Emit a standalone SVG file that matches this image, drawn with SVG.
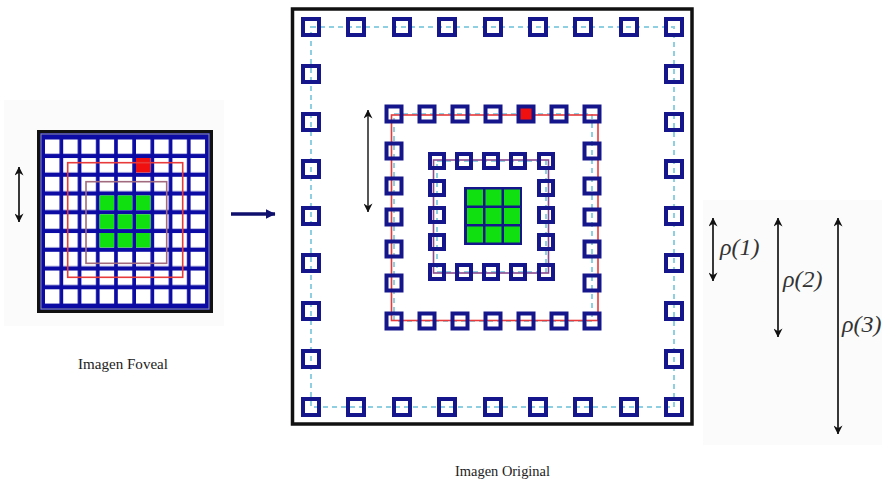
<svg xmlns="http://www.w3.org/2000/svg" width="882" height="480" viewBox="0 0 882 480">
<style>
.bg{fill:#ffffff}
.faint{fill:#fbfbfb}
.sq{fill:none;stroke:#16168c;stroke-width:4}
.sqred{fill:#f01010;stroke:#16168c;stroke-width:4}
.dash{fill:none;stroke:#8fcfe2;stroke-width:2;stroke-dasharray:5 4}
.redline{fill:none;stroke:#e83a3a;stroke-width:1.6}
.purpline{fill:none;stroke:#8a4a8e;stroke-width:1.6}
.frame{fill:none;stroke:#111111;stroke-width:3.5}
.green{fill:#10e010}
.arr{fill:none;stroke:#222222;stroke-width:1.8;marker-start:url(#ah);marker-end:url(#ah)}
.cap{font-family:"Liberation Serif","Times New Roman",serif;font-size:14.5px;fill:#222222}
.rho{font-family:"Liberation Serif","Times New Roman",serif;font-style:italic;font-size:24px;fill:#333333}
</style>
<defs>
<marker id="ah" viewBox="0 0 10 10" refX="9.5" refY="5" markerWidth="9" markerHeight="9" markerUnits="userSpaceOnUse" orient="auto-start-reverse">
<path d="M0,0 L10,5 L0,10 L3,5 z" fill="#111111"/>
</marker>
<marker id="ahn" viewBox="0 0 10 10" refX="9.5" refY="5" markerWidth="10" markerHeight="10" markerUnits="userSpaceOnUse" orient="auto">
<path d="M0,0 L10,5 L0,10 z" fill="#0f0f6e"/>
</marker>
<pattern id="cells" patternUnits="userSpaceOnUse" x="45" y="139.3" width="18.2" height="18.75">
<rect x="0" y="0" width="14.5" height="14.5" fill="#ffffff"/>
</pattern>
</defs>
<rect class="bg" x="0" y="0" width="882" height="480"/>
<rect class="faint" x="4" y="100" width="220" height="226"/>
<rect class="faint" x="703" y="200" width="179" height="245"/>

<g id="foveal">
<rect x="38.5" y="131.5" width="173" height="180" fill="#0c0ca4" stroke="#111111" stroke-width="3"/>
<rect x="41" y="134" width="168" height="175" fill="none" stroke="#9090a0" stroke-width="1"/>
<rect x="45" y="139.3" width="160.3" height="164.5" fill="url(#cells)"/>
<rect x="136" y="158" width="14.5" height="14.5" fill="#f01010"/>
<rect class="green" x="99.6" y="195.5" width="14.5" height="14.5"/>
<rect class="green" x="117.8" y="195.5" width="14.5" height="14.5"/>
<rect class="green" x="136" y="195.5" width="14.5" height="14.5"/>
<rect class="green" x="99.6" y="214.3" width="14.5" height="14.5"/>
<rect class="green" x="117.8" y="214.3" width="14.5" height="14.5"/>
<rect class="green" x="136" y="214.3" width="14.5" height="14.5"/>
<rect class="green" x="99.6" y="233" width="14.5" height="14.5"/>
<rect class="green" x="117.8" y="233" width="14.5" height="14.5"/>
<rect class="green" x="136" y="233" width="14.5" height="14.5"/>
<rect class="redline" x="67.7" y="162.7" width="115" height="114.6"/>
<rect x="86" y="181.7" width="80.7" height="81.6" fill="none" stroke="#a26a7e" stroke-width="1.6"/>
</g>

<g id="original">
<rect class="frame" x="292.5" y="9" width="399.5" height="415"/>
<rect class="dash" x="311" y="27" width="363" height="380"/>
<rect class="dash" x="394" y="114" width="198" height="207"/>
<rect class="dash" x="437" y="161" width="109" height="111"/>
<rect class="redline" x="391.5" y="115" width="206.5" height="205.5"/>
<rect class="purpline" x="433.5" y="160" width="115" height="113"/>
<g id="ring-outer">
<rect class="sq" x="303" y="19" width="16" height="16"/><rect class="sq" x="348" y="19" width="16" height="16"/><rect class="sq" x="394" y="19" width="16" height="16"/><rect class="sq" x="439" y="19" width="16" height="16"/><rect class="sq" x="485" y="19" width="16" height="16"/><rect class="sq" x="530" y="19" width="16" height="16"/><rect class="sq" x="575" y="19" width="16" height="16"/><rect class="sq" x="621" y="19" width="16" height="16"/><rect class="sq" x="666" y="19" width="16" height="16"/>
<rect class="sq" x="303" y="399" width="16" height="16"/><rect class="sq" x="348" y="399" width="16" height="16"/><rect class="sq" x="394" y="399" width="16" height="16"/><rect class="sq" x="439" y="399" width="16" height="16"/><rect class="sq" x="485" y="399" width="16" height="16"/><rect class="sq" x="530" y="399" width="16" height="16"/><rect class="sq" x="575" y="399" width="16" height="16"/><rect class="sq" x="621" y="399" width="16" height="16"/><rect class="sq" x="666" y="399" width="16" height="16"/>
<rect class="sq" x="303" y="66" width="16" height="16"/><rect class="sq" x="303" y="114" width="16" height="16"/><rect class="sq" x="303" y="161" width="16" height="16"/><rect class="sq" x="303" y="208" width="16" height="16"/><rect class="sq" x="303" y="255" width="16" height="16"/><rect class="sq" x="303" y="303" width="16" height="16"/><rect class="sq" x="303" y="351" width="16" height="16"/>
<rect class="sq" x="666" y="66" width="16" height="16"/><rect class="sq" x="666" y="114" width="16" height="16"/><rect class="sq" x="666" y="161" width="16" height="16"/><rect class="sq" x="666" y="208" width="16" height="16"/><rect class="sq" x="666" y="255" width="16" height="16"/><rect class="sq" x="666" y="303" width="16" height="16"/><rect class="sq" x="666" y="351" width="16" height="16"/>
</g>
<g id="ring-middle">
<rect class="sq" x="386.5" y="106.5" width="15" height="15"/><rect class="sq" x="419.5" y="106.5" width="15" height="15"/><rect class="sq" x="452.5" y="106.5" width="15" height="15"/><rect class="sq" x="485.5" y="106.5" width="15" height="15"/><rect class="sqred" x="518.5" y="106.5" width="15" height="15"/><rect class="sq" x="551.5" y="106.5" width="15" height="15"/><rect class="sq" x="584.5" y="106.5" width="15" height="15"/>
<rect class="sq" x="386.5" y="313.5" width="15" height="15"/><rect class="sq" x="419.5" y="313.5" width="15" height="15"/><rect class="sq" x="452.5" y="313.5" width="15" height="15"/><rect class="sq" x="485.5" y="313.5" width="15" height="15"/><rect class="sq" x="518.5" y="313.5" width="15" height="15"/><rect class="sq" x="551.5" y="313.5" width="15" height="15"/><rect class="sq" x="584.5" y="313.5" width="15" height="15"/>
<rect class="sq" x="386.5" y="143.5" width="15" height="15"/><rect class="sq" x="386.5" y="178.5" width="15" height="15"/><rect class="sq" x="386.5" y="209.5" width="15" height="15"/><rect class="sq" x="386.5" y="241.5" width="15" height="15"/><rect class="sq" x="386.5" y="275.5" width="15" height="15"/>
<rect class="sq" x="584.5" y="143.5" width="15" height="15"/><rect class="sq" x="584.5" y="178.5" width="15" height="15"/><rect class="sq" x="584.5" y="209.5" width="15" height="15"/><rect class="sq" x="584.5" y="241.5" width="15" height="15"/><rect class="sq" x="584.5" y="275.5" width="15" height="15"/>
</g>
<g id="ring-inner">
<rect class="sq" x="430" y="154" width="14" height="14"/><rect class="sq" x="457" y="154" width="14" height="14"/><rect class="sq" x="484" y="154" width="14" height="14"/><rect class="sq" x="511" y="154" width="14" height="14"/><rect class="sq" x="539" y="154" width="14" height="14"/>
<rect class="sq" x="430" y="265" width="14" height="14"/><rect class="sq" x="457" y="265" width="14" height="14"/><rect class="sq" x="484" y="265" width="14" height="14"/><rect class="sq" x="511" y="265" width="14" height="14"/><rect class="sq" x="539" y="265" width="14" height="14"/>
<rect class="sq" x="430" y="181" width="14" height="14"/><rect class="sq" x="430" y="208" width="14" height="14"/><rect class="sq" x="430" y="235" width="14" height="14"/>
<rect class="sq" x="539" y="181" width="14" height="14"/><rect class="sq" x="539" y="208" width="14" height="14"/><rect class="sq" x="539" y="235" width="14" height="14"/>
</g>
<g id="fovea-center">
<rect x="464" y="187" width="58" height="58" fill="#16168c"/>
<rect class="green" x="467" y="189.5" width="16" height="16"/><rect class="green" x="485.5" y="189.5" width="16" height="16"/><rect class="green" x="504" y="189.5" width="16" height="16"/>
<rect class="green" x="467" y="208" width="16" height="16"/><rect class="green" x="485.5" y="208" width="16" height="16"/><rect class="green" x="504" y="208" width="16" height="16"/>
<rect class="green" x="467" y="226.5" width="16" height="16"/><rect class="green" x="485.5" y="226.5" width="16" height="16"/><rect class="green" x="504" y="226.5" width="16" height="16"/>
</g>
</g>

<g id="connectors">
<line class="arr" x1="19" y1="167" x2="19" y2="222"/>
<line class="arr" x1="368" y1="110" x2="368" y2="212" style="stroke:#444444"/>
<line x1="231" y1="214" x2="275" y2="214" stroke="#0f0f6e" stroke-width="3.5" marker-end="url(#ahn)"/>
<line class="arr" x1="713" y1="218" x2="713" y2="281"/>
<line class="arr" x1="778" y1="218" x2="778" y2="337"/>
<line class="arr" x1="838" y1="218" x2="838" y2="434"/>
</g>

<g id="labels">
<text class="cap" x="78" y="369" textLength="90" lengthAdjust="spacingAndGlyphs">Imagen Foveal</text>
<text class="cap" x="455" y="476" textLength="95" lengthAdjust="spacingAndGlyphs">Imagen Original</text>
<text class="rho" x="720" y="255">ρ(1)</text>
<text class="rho" x="783" y="287">ρ(2)</text>
<text class="rho" x="842" y="332">ρ(3)</text>
</g>
</svg>
